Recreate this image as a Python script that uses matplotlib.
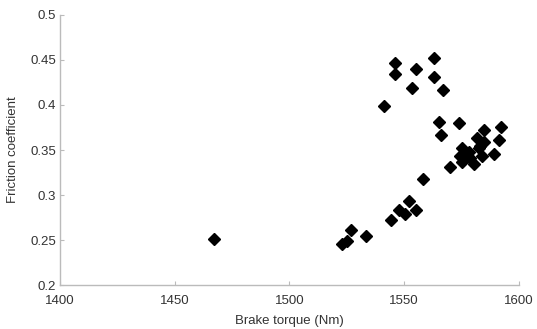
import matplotlib
matplotlib.use("Agg")
import matplotlib.pyplot as plt

torque = [1467, 1523, 1525, 1527, 1533.5, 1541, 1544.4, 1546, 1546, 1547.6, 1550.5,
          1552, 1553.5, 1555, 1555, 1558, 1563, 1563, 1565, 1566, 1567, 1570,
          1574, 1574.5, 1575.2, 1575, 1578, 1578.8, 1580.3, 1581.7, 1582.4, 1583.2,
          1584, 1584.7, 1584.7, 1589, 1591.2, 1592]
friction = [0.251, 0.246, 0.249, 0.261, 0.255, 0.399, 0.272, 0.447, 0.434, 0.283, 0.279,
            0.294, 0.419, 0.440, 0.283, 0.318, 0.452, 0.431, 0.381, 0.367, 0.416, 0.331,
            0.380, 0.343, 0.352, 0.337, 0.348, 0.341, 0.334, 0.363, 0.352, 0.354,
            0.343, 0.372, 0.359, 0.346, 0.361, 0.376]

xticks = [1400, 1450, 1500, 1550, 1600]
yticks = [0.2, 0.25, 0.3, 0.35, 0.4, 0.45, 0.5]

plt.rcParams['font.family'] = ['Liberation Sans', 'DejaVu Sans']
fig = plt.figure(figsize=(5.37, 3.29), dpi=100)
ax = fig.add_axes([0.1117, 0.1328, 0.8548, 0.8225])
ax.plot(torque, friction, linestyle='none', marker='D', color='black', markersize=5.8)
ax.set_xlim(1400, 1600)
ax.set_ylim(0.2, 0.5)
ax.set_xticks(xticks)
ax.set_xticklabels([str(t) for t in xticks])
ax.set_yticks(yticks)
ax.set_yticklabels(['0.2', '0.25', '0.3', '0.35', '0.4', '0.45', '0.5'])
for s in ['top', 'right']:
    ax.spines[s].set_visible(False)
for s in ['left', 'bottom']:
    ax.spines[s].set_color('#bbbbbb')
    ax.spines[s].set_linewidth(1.0)
ax.tick_params(direction='in', length=3, color='#bbbbbb', labelcolor='#333333', labelsize=9.5)
ax.tick_params(axis='x', pad=7)
ax.tick_params(axis='y', pad=3)
ax.set_xlabel('Brake torque (Nm)', fontsize=9.5, color='#333333', labelpad=6)
ax.set_ylabel('Friction coefficient', fontsize=9.5, color='#333333', labelpad=8)
fig.savefig('out.png', dpi=100)
